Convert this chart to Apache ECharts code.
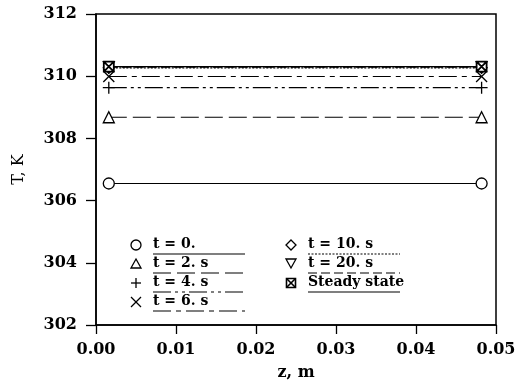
<!DOCTYPE html>
<html><head><meta charset="utf-8">
<script src="https://cdn.jsdelivr.net/npm/echarts@6/dist/echarts.min.js"></script>
<style>html,body{margin:0;padding:0;background:#fff}#c{width:517px;height:383px}</style>
</head><body><div id="c"></div>
<script>
const zPositions = [0.0016, 0.0482];
const seriesNames = ['t = 0.', 't = 2. s', 't = 4. s', 't = 6. s', 't = 10. s', 't = 20. s', 'Steady state'];
const tempT0 = [306.55, 306.55];
const tempT2 = [308.68, 308.68];
const tempT4 = [309.63, 309.63];
const tempT6 = [309.99, 309.99];
const tempT10 = [310.27, 310.27];
const tempT20 = [310.29, 310.29];
const tempSteady = [310.31, 310.31];
const xTicks = [0, 0.01, 0.02, 0.03, 0.04, 0.05];
const yTicks = [302, 304, 306, 308, 310, 312];

const allTemps = [tempT0, tempT2, tempT4, tempT6, tempT10, tempT20, tempSteady];
// marker outlines in a 10x10 box: closed polygons (c) and open strokes (o)
const markerShapes = [
  null,
  { c: [[[5, 0], [10, 9], [0, 9]]], o: [] },
  { c: [], o: [[[5, 0], [5, 10]], [[0, 5], [10, 5]]] },
  { c: [], o: [[[0, 0], [10, 10]], [[10, 0], [0, 10]]] },
  { c: [[[5, 0], [10, 5], [5, 10], [0, 5]]], o: [] },
  { c: [[[0, 0], [10, 0], [5, 9]]], o: [] },
  { c: [[[0, 0], [10, 0], [10, 10], [0, 10]]], o: [[[0, 0], [10, 10]], [[10, 0], [0, 10]]] }
];
function toPath(sh) {
  let d = '';
  sh.c.forEach(p => { d += 'M' + p.map(q => q.join(',')).join('L') + 'Z'; });
  sh.o.forEach(p => { d += 'M' + p.map(q => q.join(',')).join('L'); });
  return 'path://' + d;
}
const symbols = markerShapes.map(s => s ? toPath(s) : 'circle');
const symSizes = [11, 11, 12, 11, 11, 11, 10];
const dashes = ['solid', [18, 6], [18, 4, 3, 4, 3, 4], [18, 5, 5, 5], [2, 1.5], [9, 4], 'solid'];
const FONT = 'DejaVu Serif';

const chart = echarts.init(document.getElementById('c'));
const series = allTemps.map((vals, i) => ({
  name: seriesNames[i],
  type: 'line',
  data: zPositions.map((z, k) => [z, vals[k]]),
  symbol: symbols[i],
  symbolSize: symSizes[i],
  showAllSymbol: true,
  itemStyle: { color: (i === 2 || i === 3) ? 'none' : '#fff', borderColor: '#000', borderWidth: i === 6 ? 1.8 : 1.3 },
  lineStyle: { color: '#000', width: 1.2, type: dashes[i] },
  z: 2 + i
}));

// legend drawn as graphics
const graphics = [];
const legendRows = [[136, 245], [136, 264], [136, 283], [136, 302], [291, 245], [291, 264], [291, 283]];
const underlineEnd = [245, 245, 245, 245, 400, 400, 400];
seriesNames.forEach((nm, i) => {
  const [mx, my] = legendRows[i];
  const tx = mx + 17;
  const s = i === 6 ? 9 : 10;
  const lw = i === 6 ? 1.6 : 1.3;
  if (i === 0) {
    graphics.push({ type: 'circle', shape: { cx: mx, cy: my, r: 5 }, style: { fill: 'none', stroke: '#000', lineWidth: lw } });
  } else {
    const sh = markerShapes[i];
    const tr = p => p.map(q => [mx - s / 2 + q[0] * s / 10, my - s / 2 + q[1] * s / 10]);
    sh.c.forEach(p => graphics.push({ type: 'polygon', shape: { points: tr(p) }, style: { fill: 'none', stroke: '#000', lineWidth: lw } }));
    sh.o.forEach(p => graphics.push({ type: 'polyline', shape: { points: tr(p) }, style: { fill: null, stroke: '#000', lineWidth: lw } }));
  }
  graphics.push({ type: 'text', left: tx, top: my - 8, style: { text: nm, font: 'bold 14px ' + FONT, fill: '#000' } });
  graphics.push({ type: 'line', shape: { x1: tx, y1: my + 9, x2: underlineEnd[i], y2: my + 9 },
    style: { stroke: '#000', lineWidth: 1.2, lineDash: dashes[i] === 'solid' ? null : dashes[i] } });
});

chart.setOption({
  animation: false,
  grid: { left: 96, right: 21, top: 14, bottom: 58, show: true, borderColor: '#000', borderWidth: 1.5,
    containLabel: false, outerBoundsMode: 'none' },
  xAxis: {
    type: 'value', min: 0, max: 0.05, interval: 0.01,
    name: 'z, m', nameLocation: 'middle', nameGap: 40,
    nameTextStyle: { fontFamily: FONT, fontWeight: 'bold', fontSize: 16, color: '#000' },
    axisLine: { lineStyle: { color: '#000', width: 1.5 } },
    axisTick: { inside: false, length: 9, lineStyle: { color: '#000', width: 1.3 } },
    axisLabel: { fontFamily: FONT, fontWeight: 'bold', fontSize: 16, color: '#000', margin: 17,
      formatter: v => v.toFixed(2) },
    splitLine: { show: false }
  },
  yAxis: {
    type: 'value', min: 302, max: 312, interval: 2,
    name: 'T, K', nameLocation: 'middle', nameGap: 69, nameRotate: 90,
    nameTextStyle: { fontFamily: FONT, fontSize: 16, color: '#000' },
    axisLine: { lineStyle: { color: '#000', width: 1.5 } },
    axisTick: { inside: false, length: 10, lineStyle: { color: '#000', width: 1.3 } },
    axisLabel: { fontFamily: FONT, fontWeight: 'bold', fontSize: 16, color: '#000', margin: 19 },
    splitLine: { show: false }
  },
  series: series,
  graphic: graphics
});
</script></body></html>
